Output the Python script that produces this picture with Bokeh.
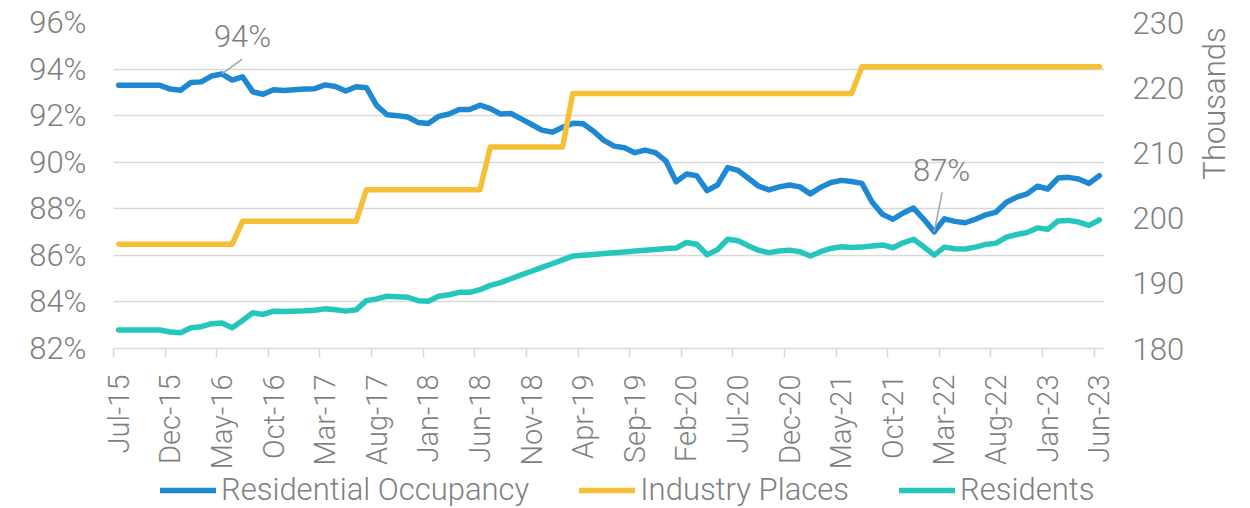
import math
import pandas as pd
from bokeh.plotting import figure
from bokeh.layouts import column, row
from bokeh.models import (Range1d, LinearAxis, FixedTicker, PrintfTickFormatter,
                          Legend, LegendItem, Label, ColumnDataSource)
from bokeh.embed import file_html
from bokeh.resources import INLINE

# ---------------- data ----------------
months = [d.strftime("%b-%y") for d in pd.date_range("2015-07-01", "2023-06-01", freq="MS")]

occupancy = [93.30, 93.30, 93.30, 93.30, 93.30, 93.14, 93.09, 93.42, 93.45, 93.70,
             93.79, 93.53, 93.67, 93.02, 92.92, 93.11, 93.08, 93.11, 93.14, 93.16,
             93.32, 93.25, 93.06, 93.24, 93.20, 92.43, 92.04, 92.00, 91.94, 91.71,
             91.66, 91.97, 92.07, 92.26, 92.26, 92.45, 92.30, 92.07, 92.09, 91.86,
             91.62, 91.38, 91.29, 91.50, 91.67, 91.65, 91.33, 90.94, 90.69, 90.62,
             90.41, 90.52, 90.41, 90.06, 89.16, 89.49, 89.42, 88.78, 89.02, 89.77,
             89.65, 89.31, 88.97, 88.81, 88.94, 89.02, 88.94, 88.64, 88.92, 89.13,
             89.22, 89.17, 89.09, 88.28, 87.76, 87.55, 87.82, 88.03, 87.55, 87.01,
             87.57, 87.46, 87.40, 87.55, 87.74, 87.86, 88.28, 88.50, 88.64, 88.97,
             88.85, 89.32, 89.35, 89.28, 89.09, 89.42]

industry_places = ([196.0] * 12 + [199.5] * 12 + [204.35] * 12 + [210.9] * 8
                   + [219.1] * 28 + [223.2] * 24)

residents = [182.84, 182.84, 182.84, 182.84, 182.84, 182.54, 182.43, 183.19, 183.34, 183.80,
             183.90, 183.19, 184.30, 185.47, 185.22, 185.73, 185.67, 185.73, 185.78, 185.88,
             186.08, 185.93, 185.73, 185.93, 187.34, 187.60, 188.01, 187.95, 187.86, 187.34,
             187.24, 188.01, 188.25, 188.61, 188.61, 189.02, 189.68, 190.10, 190.70, 191.30,
             191.85, 192.45, 193.00, 193.60, 194.18, 194.31, 194.43, 194.56, 194.69, 194.81,
             194.94, 195.07, 195.20, 195.32, 195.40, 196.26, 196.00, 194.38, 195.15, 196.76,
             196.52, 195.76, 195.05, 194.70, 194.94, 195.09, 194.85, 194.18, 194.85, 195.35,
             195.60, 195.50, 195.55, 195.73, 195.88, 195.45, 196.21, 196.76, 195.60, 194.33,
             195.55, 195.30, 195.25, 195.55, 195.96, 196.16, 197.07, 197.48, 197.78, 198.50,
             198.28, 199.56, 199.65, 199.40, 198.89, 199.71]

left_ticks = [82, 84, 86, 88, 90, 92, 94, 96]
right_ticks = [180, 190, 200, 210, 220, 230]
label_step = 5
series_names = ["Residential Occupancy", "Industry Places", "Residents"]
right_title = "Thousands"
annotated_points = [10, 79]

# ---------------- style ----------------
BLUE = "#1E88D2"
YELLOW = "#F5BF36"
TEAL = "#25C7BC"
GRID = "#D9D9D9"
TEXT = "#7F7F7F"
FONT = "Roboto Light"
FS = "31px"
XFS = "29px"
COLORS = [BLUE, YELLOW, TEAL]
LW = 5.5
TOP_H = 472      # chart + axis strip height
BOTTOM_B = 121   # space below the plotting frame

x = list(range(len(months)))
src = ColumnDataSource(dict(x=x, occ=occupancy, ind=industry_places, res=residents))

# ---------------- main chart ----------------
p = figure(width=1190, height=TOP_H, output_backend="svg", toolbar_location=None,
           x_range=Range1d(-0.5, len(months) - 0.5), y_range=Range1d(82, 96),
           min_border_left=113, min_border_right=86, min_border_top=22,
           min_border_bottom=BOTTOM_B)
p.extra_y_ranges = {"right": Range1d(180, 230)}
p.outline_line_color = None
p.background_fill_color = "white"
p.border_fill_color = "white"

# x axis
xa = p.xaxis[0]
xa.ticker = FixedTicker(ticks=x[::label_step],
                        minor_ticks=[i - 0.5 for i in x[::label_step]])
xa.major_label_overrides = {i: months[i] for i in x[::label_step]}
xa.major_label_orientation = math.pi / 2
xa.major_tick_out = 0
xa.major_tick_in = 0
xa.minor_tick_out = 9
xa.minor_tick_in = 0
xa.minor_tick_line_color = GRID
xa.minor_tick_line_width = 1.5
xa.axis_line_color = GRID
xa.axis_line_width = 1.5
xa.major_label_standoff = 17
xa.major_label_text_font = FONT
xa.major_label_text_font_size = XFS
xa.major_label_text_color = TEXT

# left axis
ya = p.yaxis[0]
ya.ticker = FixedTicker(ticks=left_ticks)
ya.formatter = PrintfTickFormatter(format="%d%%")
ya.axis_line_color = None
ya.major_tick_line_color = None
ya.minor_tick_line_color = None
ya.major_tick_out = 0
ya.major_label_standoff = 27
ya.major_label_text_font = FONT
ya.major_label_text_font_size = FS
ya.major_label_text_color = TEXT

# right axis
ra = LinearAxis(y_range_name="right", ticker=FixedTicker(ticks=right_ticks))
ra.axis_line_color = None
ra.major_tick_line_color = None
ra.minor_tick_line_color = None
ra.major_tick_out = 0
ra.major_label_standoff = 28
ra.major_label_text_font = FONT
ra.major_label_text_font_size = FS
ra.major_label_text_color = TEXT
p.add_layout(ra, "right")

p.xgrid.grid_line_color = None
p.ygrid.ticker = FixedTicker(ticks=left_ticks)
p.ygrid.grid_line_color = GRID
p.ygrid.grid_line_width = 1.5

r1 = p.line("x", "occ", source=src, line_color=BLUE, line_width=LW,
            line_cap="round", line_join="round")
r2 = p.line("x", "ind", source=src, line_color=YELLOW, line_width=LW,
            line_cap="round", line_join="round", y_range_name="right")
r3 = p.line("x", "res", source=src, line_color=TEAL, line_width=LW,
            line_cap="round", line_join="round", y_range_name="right")

# annotations (leader line + value label)
offsets = {10: (1.97, 0.64, 2.0, 1.60), 79: (0.78, 1.70, 0.72, 2.62)}
for i in annotated_points:
    dx1, dy1, dxt, dyt = offsets[i]
    p.segment(x0=[i], y0=[occupancy[i]], x1=[i + dx1], y1=[occupancy[i] + dy1],
              line_color="#A6A6A6", line_width=1.5)
    p.add_layout(Label(x=i + dxt, y=occupancy[i] + dyt, text=f"{round(occupancy[i])}%",
                       text_font=FONT, text_font_size=FS, text_color=TEXT,
                       text_align="center", text_baseline="middle"))

# ---------------- right-axis title strip ----------------
pt = figure(width=60, height=TOP_H, output_backend="svg", toolbar_location=None,
            x_axis_location=None, y_axis_location=None,
            x_range=Range1d(0, 1), y_range=Range1d(0, 1),
            min_border_left=0, min_border_right=0, min_border_top=22,
            min_border_bottom=BOTTOM_B)
pt.grid.visible = False
pt.outline_line_color = None
pt.add_layout(Label(x=24, y=245, x_units="screen", y_units="screen", text=right_title,
                    angle=math.pi / 2, text_font=FONT, text_font_size=FS,
                    text_color=TEXT, text_align="center", text_baseline="middle"))

# ---------------- legend strip ----------------
pl = figure(width=1250, height=508 - TOP_H, output_backend="svg", toolbar_location=None,
            x_axis_location=None, y_axis_location=None,
            x_range=Range1d(0, 1), y_range=Range1d(0, 1),
            min_border_left=113, min_border_right=146, min_border_top=0,
            min_border_bottom=0)
pl.grid.visible = False
pl.outline_line_color = None
# key renderers reuse the series data, which lies outside this strip's ranges
legend_renderers = [pl.line("x", col, source=src, line_color=c, line_width=LW,
                            line_cap="round")
                    for col, c in zip(["occ", "ind", "res"], COLORS)]
legend = Legend(items=[LegendItem(label=n, renderers=[r])
                       for n, r in zip(series_names, legend_renderers)],
                orientation="horizontal", location=(47, 0),
                glyph_width=56, glyph_height=36, label_height=36,
                label_standoff=5, spacing=50, padding=0, margin=0,
                border_line_color=None, background_fill_alpha=0,
                label_text_font=FONT, label_text_font_size=FS,
                label_text_color=TEXT)
pl.add_layout(legend, "center")

layout = column(row(p, pt, spacing=0), pl, spacing=0)
open("out.html", "w").write(file_html(layout, INLINE))
